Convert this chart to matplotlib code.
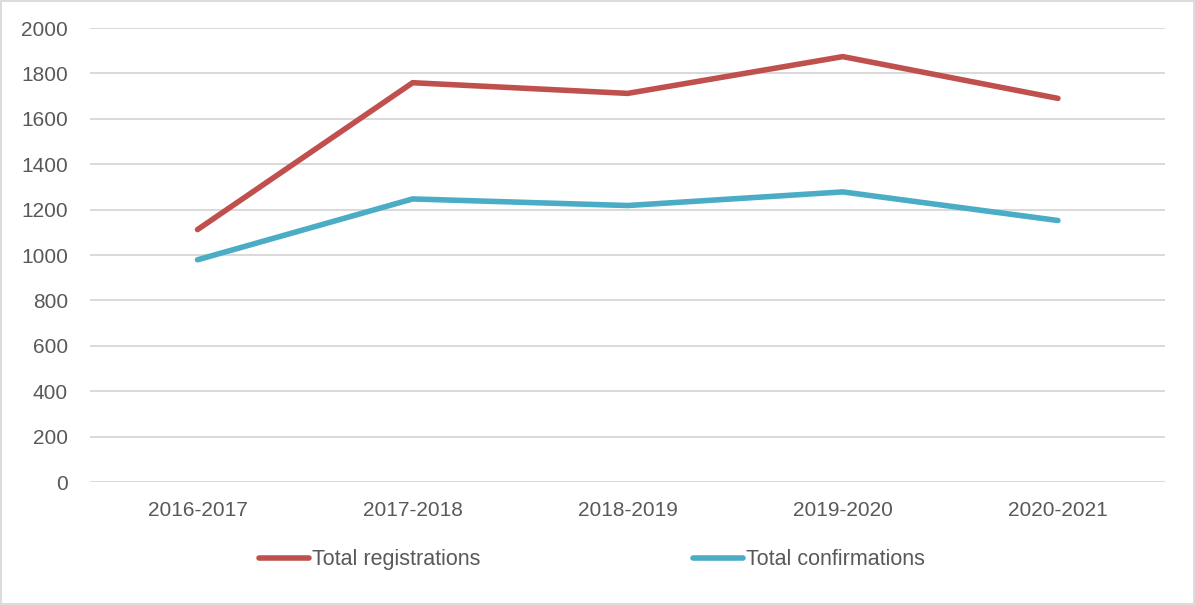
import matplotlib
matplotlib.use('Agg')
import matplotlib.pyplot as plt
from matplotlib.patches import Rectangle

plt.rcParams['font.family'] = ['Liberation Sans', 'DejaVu Sans']

seasons = ['2016-2017', '2017-2018', '2018-2019', '2019-2020', '2020-2021']
registrations = [1112, 1759, 1712, 1874, 1690]
confirmations = [979, 1247, 1218, 1278, 1152]
y_ticks = list(range(0, 2001, 200))

text_col = '#595959'
grid_col = '#d9d9d9'

fig = plt.figure(figsize=(11.95, 6.05), dpi=100)
ax = fig.add_axes([0.0753, 0.2033, 0.9, 0.7504])

x = list(range(len(seasons)))
ax.plot(x, registrations, color='#c0504d', lw=4, solid_capstyle='round',
        solid_joinstyle='miter', label='Total registrations', zorder=3)
ax.plot(x, confirmations, color='#4bacc6', lw=4, solid_capstyle='round',
        solid_joinstyle='miter', label='Total confirmations', zorder=3)

ax.set_xlim(-0.5, len(seasons) - 0.5)
ax.set_ylim(0, 2000)
ax.set_yticks(y_ticks)
ax.set_xticks(x)
ax.set_xticklabels(seasons)
ax.grid(axis='y', color=grid_col, lw=1.4)
ax.set_axisbelow(True)
for s in ax.spines.values():
    s.set_visible(False)
ax.tick_params(axis='both', length=0, labelsize=15, colors=text_col)
ax.tick_params(axis='y', pad=16)
ax.tick_params(axis='x', pad=14)

fig.legend(loc='center', bbox_to_anchor=(0.4955, 0.0744), ncol=2, frameon=False,
           fontsize=15.5, handlelength=2.3, handletextpad=0.15, columnspacing=9.9,
           labelcolor=text_col)

fig.add_artist(Rectangle((0.001, 0.001), 0.998, 0.997, transform=fig.transFigure,
                         fill=False, edgecolor=grid_col, lw=1.3))

fig.savefig('out.png', dpi=100)
